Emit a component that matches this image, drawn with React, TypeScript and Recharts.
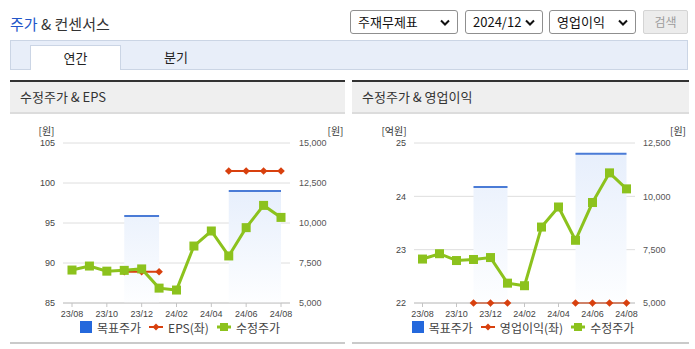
import React from 'react';
import { ComposedChart, Line, Area, XAxis, YAxis, CartesianGrid, Legend } from 'recharts';

// monthly categories on the x axis
const months = ['23/08', '23/09', '23/10', '23/11', '23/12', '24/01', '24/02', '24/03', '24/04', '24/05', '24/06', '24/07', '24/08'];

// 수정주가 (원), right axis
const adjPrice = [7060, 7310, 6990, 7040, 7130, 5930, 5810, 8560, 9500, 7940, 9710, 11100, 10350];

// 목표주가 (원), right axis
const targetPrice = [null, null, null, 10440, 10440, 10440, null, null, null, 12000, 12000, 12000, 12000];

// EPS (원), left axis of the first chart
const eps = [null, null, null, 88.9, 88.9, 88.9, null, null, null, 101.5, 101.5, 101.5, 101.5];

// 영업이익 (억원), left axis of the second chart
const opProfit = [null, null, null, 22, 22, 22, null, null, null, 22, 22, 22, 22];

const epsTicks = [85, 90, 95, 100, 105];
const epsPriceTicks = [5000, 7500, 10000, 12500, 15000];
const opTicks = [22, 23, 24, 25];
const opPriceTicks = [5000, 7500, 10000, 12500];

const GREEN = '#8cc21d';
const RED = '#d8400e';
const BLUE_LINE = '#4a7bd6';
const BLUE_SQ = '#2468dc';
const FONT = "'Noto Sans CJK KR', 'Noto Sans', sans-serif";
const TICK_FONT = "'Liberation Sans', 'Noto Sans CJK KR', sans-serif";

type Row = { month: string; target: number | null; second: number | null; price: number };

const buildRows = (second: (number | null)[]): Row[] =>
    months.map((m, i) => ({ month: m, target: targetPrice[i], second: second[i], price: adjPrice[i] }));

const fmt = (v: number) => v.toLocaleString('en-US');

const Diamond = (props: any) => {
    const { cx, cy, index } = props;
    if (cx == null || cy == null) return <g key={`dm-${index}`} />;
    const r = 3.8;
    return (
        <polygon
            key={`dm-${index}`}
            points={`${cx},${cy - r} ${cx + r},${cy} ${cx},${cy + r} ${cx - r},${cy}`}
            fill={RED}
        />
    );
};

const Square = (props: any) => {
    const { cx, cy, index } = props;
    if (cx == null || cy == null) return <g key={`sq-${index}`} />;
    return <rect key={`sq-${index}`} x={cx - 4.5} y={cy - 4.5} width={9} height={9} fill={GREEN} />;
};

const LegendBox = ({ secondName }: { secondName: string }) => (
    <div
        style={{
            display: 'flex',
            justifyContent: 'center',
            alignItems: 'center',
            height: 16,
            fontSize: 12,
            color: '#444',
            fontFamily: FONT,
            paddingLeft: 5,
        }}
    >
        <span style={{ width: 12, height: 12, background: BLUE_SQ, marginRight: 5, display: 'inline-block' }} />
        <span style={{ marginRight: 8 }}>목표주가</span>
        <svg width={14} height={10} style={{ marginRight: 5 }}>
            <line x1={0} y1={5} x2={14} y2={5} stroke={RED} strokeWidth={2} />
            <polygon points="7,1.5 10.5,5 7,8.5 3.5,5" fill={RED} />
        </svg>
        <span style={{ marginRight: 8 }}>{secondName}</span>
        <svg width={14} height={10} style={{ marginRight: 5 }}>
            <line x1={0} y1={5} x2={14} y2={5} stroke={GREEN} strokeWidth={3} />
            <rect x={3} y={1} width={8} height={8} fill={GREEN} />
        </svg>
        <span>수정주가</span>
    </div>
);

interface ChartProps {
    rows: Row[];
    gid: string;
    width: number;
    leftWidth: number;
    rightWidth: number;
    leftDomain: [number, number];
    leftTicks: number[];
    leftUnit: string;
    leftDx: number;
    rightDomain: [number, number];
    rightTicks: number[];
    rightDx: number;
    rightTickMargin: number;
    padX: number;
    secondName: string;
}

const PriceChart = (p: ChartProps) => (
    <ComposedChart width={p.width} height={230} data={p.rows} margin={{ top: 30, right: 0, bottom: 8, left: 0 }}>
        <defs>
            <linearGradient id={p.gid} x1="0" y1="0" x2="0" y2="1">
                <stop offset="0%" stopColor="#e7effc" />
                <stop offset="100%" stopColor="#fdfeff" />
            </linearGradient>
        </defs>
        <CartesianGrid yAxisId="left" vertical={false} stroke="#dedede" />
        <XAxis
            dataKey="month"
            scale="point"
            padding={{ left: p.padX, right: p.padX }}
            interval={1}
            height={16}
            tick={{ fontSize: 9, fill: '#444', fontFamily: TICK_FONT }}
            tickSize={4}
            tickMargin={4}
            axisLine={{ stroke: '#c4c4c4' }}
            tickLine={{ stroke: '#c4c4c4' }}
        />
        <YAxis
            yAxisId="left"
            domain={p.leftDomain}
            ticks={p.leftTicks}
            width={p.leftWidth}
            axisLine={false}
            tickLine={false}
            tick={{ fontSize: 9, fill: '#444', fontFamily: TICK_FONT }}
            label={{ value: p.leftUnit, position: 'top', offset: 8, dx: p.leftDx, fontSize: 10, fill: '#333', fontFamily: FONT }}
        />
        <YAxis
            yAxisId="right"
            orientation="right"
            domain={p.rightDomain}
            ticks={p.rightTicks}
            width={p.rightWidth}
            axisLine={false}
            tickLine={false}
            tickMargin={p.rightTickMargin}
            tickFormatter={fmt}
            tick={{ fontSize: 9, fill: '#555', fontFamily: TICK_FONT }}
            label={{ value: '[원]', position: 'top', offset: 8, dx: p.rightDx, fontSize: 10, fill: '#333', fontFamily: FONT }}
        />
        <Area
            yAxisId="right"
            type="linear"
            dataKey="target"
            stroke={BLUE_LINE}
            strokeWidth={2}
            fill={`url(#${p.gid})`}
            fillOpacity={1}
            dot={false}
            activeDot={false}
            isAnimationActive={false}
        />
        <Line
            yAxisId="left"
            type="linear"
            dataKey="second"
            stroke={RED}
            strokeWidth={2}
            dot={Diamond}
            activeDot={false}
            isAnimationActive={false}
        />
        <Line
            yAxisId="right"
            type="linear"
            dataKey="price"
            stroke={GREEN}
            strokeWidth={3}
            dot={Square}
            activeDot={false}
            isAnimationActive={false}
        />
        <Legend verticalAlign="bottom" content={() => <LegendBox secondName={p.secondName} />} />
    </ComposedChart>
);

const SelectBox = ({ left, width, text }: { left: number; width: number; text: string }) => (
    <div
        style={{
            position: 'absolute',
            left,
            top: 10,
            width,
            height: 24,
            boxSizing: 'border-box',
            border: '1px solid #8f8f8f',
            borderRadius: 3,
            background: '#fff',
            fontSize: 13,
            lineHeight: '22px',
            paddingLeft: 7,
            color: '#111',
        }}
    >
        {text}
        <svg width={10} height={8} style={{ position: 'absolute', right: 7, top: 8 }}>
            <path d="M1 1.5 L5 5.5 L9 1.5" stroke="#111" strokeWidth={2} fill="none" />
        </svg>
    </div>
);

const Panel = ({ left, width, title }: { left: number; width: number; title: string }) => (
    <>
        <div style={{ position: 'absolute', left, top: 80, width, height: 2, background: '#333' }} />
        <div
            style={{
                position: 'absolute',
                left,
                top: 82,
                width,
                height: 32,
                boxSizing: 'border-box',
                background: '#efefef',
                borderBottom: '2px solid #dcdcdc',
                fontSize: 13,
                lineHeight: '30px',
                paddingLeft: 10,
                color: '#333',
            }}
        >
            {title}
        </div>
        <div style={{ position: 'absolute', left, top: 342, width, height: 2, background: '#cacaca' }} />
    </>
);

const App = () => {
    const epsRows = buildRows(eps);
    const opRows = buildRows(opProfit);

    return (
        <div
            style={{
                position: 'absolute',
                left: 0,
                top: 0,
                width: 695,
                height: 349,
                overflow: 'hidden',
                background: '#fff',
                fontFamily: FONT,
            }}
        >
            <div style={{ position: 'absolute', left: 10, top: 14, fontSize: 15, lineHeight: '20px', color: '#333' }}>
                <span style={{ color: '#2256c9' }}>주가</span> &amp; 컨센서스
            </div>
            <SelectBox left={350} width={108} text="주재무제표" />
            <SelectBox left={465} width={78} text="2024/12" />
            <SelectBox left={549} width={87} text="영업이익" />
            <div
                style={{
                    position: 'absolute',
                    left: 643,
                    top: 10,
                    width: 45,
                    height: 24,
                    boxSizing: 'border-box',
                    border: '1px solid #d4d4d4',
                    borderRadius: 2,
                    background: '#ececec',
                    color: '#9c9c9c',
                    fontSize: 12,
                    lineHeight: '22px',
                    textAlign: 'center',
                }}
            >
                검색
            </div>

            <div
                style={{
                    position: 'absolute',
                    left: 10,
                    top: 40,
                    width: 678,
                    height: 30,
                    boxSizing: 'border-box',
                    background: '#e8eef9',
                    border: '1px solid #cbd5e5',
                }}
            />
            <div
                style={{
                    position: 'absolute',
                    left: 30,
                    top: 45,
                    width: 91,
                    height: 25,
                    boxSizing: 'border-box',
                    background: '#fff',
                    border: '1px solid #cbd5e5',
                    borderBottom: 'none',
                    fontSize: 13,
                    lineHeight: '23px',
                    textAlign: 'center',
                    color: '#222',
                }}
            >
                연간
            </div>
            <div style={{ position: 'absolute', left: 146, top: 45, width: 60, fontSize: 13, lineHeight: '23px', textAlign: 'center', color: '#222' }}>
                분기
            </div>

            <Panel left={10} width={335} title="수정주가 & EPS" />
            <Panel left={352} width={337} title="수정주가 & 영업이익" />

            <div style={{ position: 'absolute', left: 10, top: 113 }}>
                <PriceChart
                    rows={epsRows}
                    gid="gradEps"
                    width={335}
                    leftWidth={53}
                    rightWidth={55}
                    leftDomain={[85, 105]}
                    leftTicks={epsTicks}
                    leftUnit="[원]"
                    leftDx={10}
                    rightDomain={[5000, 15000]}
                    rightTicks={epsPriceTicks}
                    rightDx={18}
                    rightTickMargin={3}
                    padX={9}
                    secondName="EPS(좌)"
                />
            </div>
            <div style={{ position: 'absolute', left: 352, top: 113 }}>
                <PriceChart
                    rows={opRows}
                    gid="gradOp"
                    width={337}
                    leftWidth={62}
                    rightWidth={54}
                    leftDomain={[22, 25]}
                    leftTicks={opTicks}
                    leftUnit="[억원]"
                    leftDx={11}
                    rightDomain={[5000, 12500]}
                    rightTicks={opPriceTicks}
                    rightDx={16}
                    rightTickMargin={2}
                    padX={8.5}
                    secondName="영업이익(좌)"
                />
            </div>
        </div>
    );
};

export default App;
